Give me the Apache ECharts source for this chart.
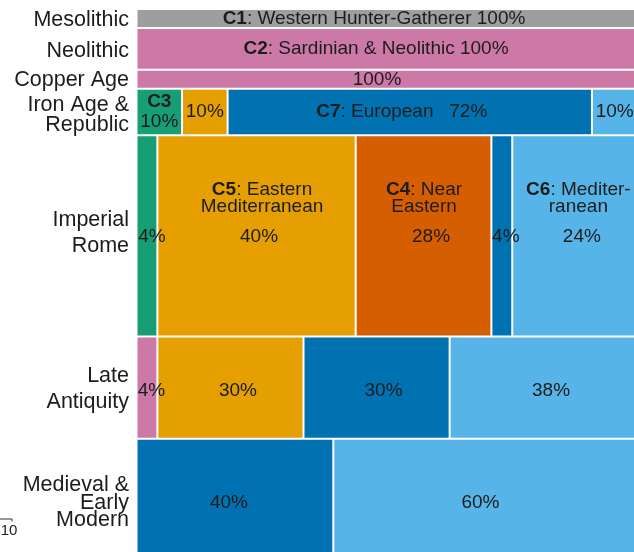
<!DOCTYPE html>
<html><head><meta charset="utf-8">
<script src="https://cdn.jsdelivr.net/npm/echarts@6/dist/echarts.min.js"></script>
<style>html,body{margin:0;padding:0;background:#fff}#c{width:634px;height:552px}</style>
</head><body><div id="c"></div>
<script>
// ---- data ----
const periods = ['Mesolithic', 'Neolithic', 'Copper Age', 'Iron Age &\nRepublic', 'Imperial\nRome', 'Late\nAntiquity', 'Medieval &\nEarly\nModern'];
const rowUnits = [4.5, 9.9, 4.5, 11, 47.6, 24.2, 30];       // row heights (sample units)
const clusterNames = { C1: 'Western Hunter-Gatherer', C2: 'Sardinian & Neolithic', C3: '', C4: 'Near Eastern', C5: 'Eastern Mediterranean', C6: 'Mediterranean', C7: 'European' };
const rowClusters = [['C1'], ['C2'], ['C2'], ['C3', 'C5', 'C7', 'C6'], ['C3', 'C5', 'C4', 'C7', 'C6'], ['C2', 'C5', 'C7', 'C6'], ['C7', 'C6']];
const rowCounts = [[1], [1], [1], [1, 1, 8, 1], [2, 19, 13, 2, 12], [1, 7, 7, 9], [11, 17]];
const rowPercents = [[100], [100], [100], [10, 10, 72, 10], [4, 40, 28, 4, 24], [4, 30, 30, 38], [40, 60]];
const scaleLabel = '10';

// ---- styles ----
const colors = { C1: '#9e9e9e', C2: '#cc79a7', C3: '#179e75', C4: '#d55e00', C5: '#e69f00', C6: '#56b4e9', C7: '#0072b2' };
const labelKind = [['inline'], ['inline'], ['pct'], ['stack', 'pct', 'inline3', 'pct'], ['pct', 'above', 'above', 'pct', 'above'], ['pct', 'pct', 'pct', 'pct'], ['pct', 'pct']];
const wrapped = { C4: 'Near\nEastern', C5: 'Eastern\nMediterranean', C6: 'Mediter-\nranean' };
// label nudges in px: [dx, dy] for the percent/main label, and for the name block ('above' kind)
const labelShift = [[[-13, 0]], [[-11, 0]], [[-10, 0]], [[0, 0], [0, 0], [-8, 0], [0, 0]],
  [[5, 1], [2.5, 1], [7.5, 1], [4, 1], [7, 1]], [[4.5, 3], [7.5, 3], [7, 3], [7.5, 3]], [[-6, 1], [-5, 1]]];
const nameShift = { C5: [5.5, -37.5], C4: [0.5, -37.5], C6: [3.5, -37.5] };
const rowLineHeight = [22, 22, 22, 20, 26, 26, 17.5];
const rowLabelDy = [1.5, 2, 1, 3, -3, 1.5, 1];
const FF = '"Liberation Sans", Arial, Helvetica, sans-serif';
const TXT = '#1c1c1c';

// ---- build series data ----
const segData = [];
const rowData = [];
let yAcc = 0;
periods.forEach((p, r) => {
  const tot = rowCounts[r].reduce((a, b) => a + b, 0);
  let xAcc = 0;
  rowCounts[r].forEach((c, s) => {
    segData.push([xAcc / tot, (xAcc + c) / tot, yAcc, yAcc + rowUnits[r], r, s]);
    xAcc += c;
  });
  rowData.push([yAcc, yAcc + rowUnits[r], r]);
  yAcc += rowUnits[r];
});
const totalUnits = yAcc;

function textEl(x, y, text, lh) {
  const L = lh || 19;
  return {
    type: 'text',
    style: {
      x: x, y: y, text: text, align: 'center', verticalAlign: 'middle',
      fontFamily: FF, fontSize: 19, fill: TXT, lineHeight: L,
      rich: {
        b: { fontFamily: FF, fontSize: 19, fontWeight: 'bold', fill: TXT, lineHeight: L },
        n: { fontFamily: FF, fontSize: 19, fill: TXT, lineHeight: L }
      }
    },
    z2: 10
  };
}

function renderSeg(params, api) {
  const x0 = api.value(0), x1 = api.value(1), y0 = api.value(2), y1 = api.value(3);
  const r = api.value(4), s = api.value(5);
  const p0 = api.coord([x0, y0]), p1 = api.coord([x1, y1]);
  const g = 1;
  const cid = rowClusters[r][s];
  const pct = rowPercents[r][s] + '%';
  const sh = labelShift[r][s];
  const cx = (p0[0] + p1[0]) / 2, cy = (p0[1] + p1[1]) / 2;
  const tx = cx + sh[0], ty = cy + sh[1];
  const children = [{
    type: 'rect',
    shape: { x: p0[0] + g, y: p0[1] + g, width: p1[0] - p0[0] - 2 * g, height: p1[1] - p0[1] - 2 * g },
    style: { fill: colors[cid] }
  }];
  const kind = labelKind[r][s];
  if (kind === 'inline') {
    children.push(textEl(tx, ty, '{b|' + cid + '}{n|: ' + clusterNames[cid] + ' ' + pct + '}'));
  } else if (kind === 'inline3') {
    children.push(textEl(tx, ty, '{b|' + cid + '}{n|: ' + clusterNames[cid] + '   ' + pct + '}'));
  } else if (kind === 'stack') {
    children.push(textEl(tx, ty, '{b|' + cid + '}\n{n|' + pct + '}', 20));
  } else if (kind === 'above') {
    const lines = wrapped[cid].split('\n');
    const ns = nameShift[cid];
    const t = '{b|' + cid + '}{n|: ' + lines[0] + '}\n{n|' + lines[1] + '}';
    children.push(textEl(cx + ns[0], cy + ns[1], t, 17.5));
    children.push(textEl(tx, ty, '{n|' + pct + '}'));
  } else {
    children.push(textEl(tx, ty, '{n|' + pct + '}'));
  }
  return { type: 'group', children: children };
}

function renderRow(params, api) {
  const y0 = api.value(0), y1 = api.value(1), r = api.value(2);
  const p0 = api.coord([0, y0]), p1 = api.coord([0, y1]);
  return {
    type: 'text',
    style: {
      x: p0[0] - 7.5, y: (p0[1] + p1[1]) / 2 + rowLabelDy[r], text: periods[r],
      align: 'right', verticalAlign: 'middle',
      fontFamily: FF, fontSize: 21.5, fill: TXT, lineHeight: rowLineHeight[r]
    }
  };
}

const chart = echarts.init(document.getElementById('c'), null, { renderer: 'canvas' });
chart.setOption({
  animation: false,
  backgroundColor: '#ffffff',
  grid: { left: 136.5, top: 9, width: 501, height: 556.4, containLabel: false, outerBoundsMode: 'none' },
  xAxis: { type: 'value', min: 0, max: 1, show: false },
  yAxis: { type: 'value', min: 0, max: totalUnits, inverse: true, show: false },
  series: [
    { type: 'custom', renderItem: renderSeg, data: segData, clip: false, encode: { x: [0, 1], y: [2, 3] } },
    { type: 'custom', renderItem: renderRow, data: rowData, clip: false, encode: { y: [0, 1] } }
  ],
  graphic: [
    { type: 'line', shape: { x1: 0, y1: 519, x2: 12, y2: 519 }, style: { stroke: '#333', lineWidth: 1 } },
    { type: 'line', shape: { x1: 12, y1: 519, x2: 12, y2: 521.5 }, style: { stroke: '#333', lineWidth: 1 } },
    { type: 'text', style: { x: 9, y: 531, text: scaleLabel, align: 'center', verticalAlign: 'middle', fontFamily: FF, fontSize: 15, fill: '#222' } }
  ]
});
</script>
</body></html>
